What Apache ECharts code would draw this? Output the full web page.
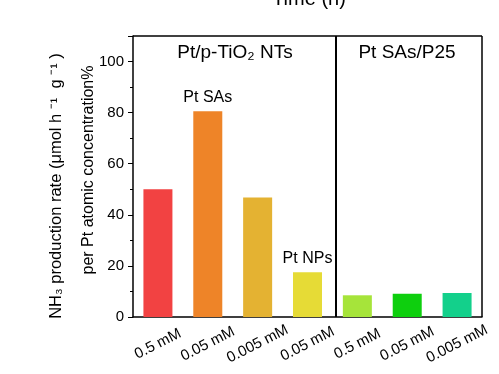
<!DOCTYPE html>
<html><head><meta charset="utf-8">
<script src="https://cdn.jsdelivr.net/npm/echarts@6/dist/echarts.min.js"></script>
<style>html,body{margin:0;padding:0;background:#fff}#c{width:499px;height:374px}</style>
</head><body><div id="c"></div>
<script>
const categories = ['0.5 mM','0.05 mM','0.005 mM','0.05 mM','0.5 mM','0.05 mM','0.005 mM'];
const values = [50, 80.5, 46.8, 17.5, 8.5, 9.1, 9.4];
const barColors = ['#F24242','#EE8428','#E4B232','#E6DB36','#A6E43A','#0ECF0E','#13D08B'];
const barNotes = ['', 'Pt SAs', '', 'Pt NPs', '', '', ''];
const groupNames = ['Pt/p-TiO₂ NTs', 'Pt SAs/P25'];
const yTicks = [0, 20, 40, 60, 80, 100];

const FONT = 'Liberation Sans, Arial, sans-serif';
const chart = echarts.init(document.getElementById('c'), null, {renderer:'canvas'});
chart.setOption({
  animation: false,
  backgroundColor: '#fff',
  grid: {left: 133, right: 17, top: 36, bottom: 57},
  xAxis: [{
    type: 'category', data: categories,
    axisLine: {lineStyle: {color: '#000', width: 1.5}},
    axisTick: {show: false},
    splitLine: {show: false},
    axisLabel: {rotate: 27, align: 'center', verticalAlign: 'middle', margin: 27, color: '#000', fontSize: 15, fontFamily: FONT, interval: 0}
  }, {
    type: 'value', min: 0, max: 7, show: false
  }],
  yAxis: {
    type: 'value', min: 0, max: 110, interval: 20,
    axisLine: {show: true, lineStyle: {color: '#000', width: 1.5}},
    axisTick: {show: true, length: 5, lineStyle: {color: '#000', width: 1}},
    minorTick: {show: true, splitNumber: 2, length: 3, lineStyle: {color: '#000', width: 1}},
    splitLine: {show: false},
    axisLabel: {color: '#000', fontSize: 15, fontFamily: FONT, margin: 9,
      formatter: (v) => yTicks.includes(v) ? String(v) : ''}
  },
  series: [{
    type: 'bar', barWidth: 29,
    data: values.map((v, i) => ({
      value: v,
      itemStyle: {color: barColors[i]},
      label: {show: barNotes[i] !== '', position: 'top', distance: 6, formatter: barNotes[i], color: '#000', fontSize: 16, fontFamily: FONT}
    }))
  }, {
    type: 'line', xAxisIndex: 1, yAxisIndex: 0, data: [],
    markLine: {symbol: 'none', silent: true, label: {show: false},
      lineStyle: {color: '#000', width: 1.5, type: 'solid'},
      data: [
        {xAxis: 4.07, lineStyle: {width: 2, color: '#000', type: 'solid'}},
        {xAxis: 7},
        {yAxis: 110}
      ]}
  }],
  graphic: [
    {type: 'text', x: 309, y: -1, style: {text: 'Time (h)', fill: '#000', font: '20px ' + FONT, align: 'center', verticalAlign: 'middle'}},
    {type: 'text', x: 235, y: 53, style: {text: groupNames[0], fill: '#000', font: '19px ' + FONT, align: 'center', verticalAlign: 'middle'}},
    {type: 'text', x: 407, y: 53, style: {text: groupNames[1], fill: '#000', font: '19px ' + FONT, align: 'center', verticalAlign: 'middle'}},
    {type: 'text', x: 56, y: 186, rotation: Math.PI/2, style: {text: 'NH₃ production rate (μmol h ⁻¹  g ⁻¹ )', fill: '#000', font: '16.5px ' + FONT, align: 'center', verticalAlign: 'middle'}},
    {type: 'text', x: 89, y: 170, rotation: Math.PI/2, style: {text: 'per Pt atomic concentration%', fill: '#000', font: '16px ' + FONT, align: 'center', verticalAlign: 'middle'}}
  ]
});
</script></body></html>
